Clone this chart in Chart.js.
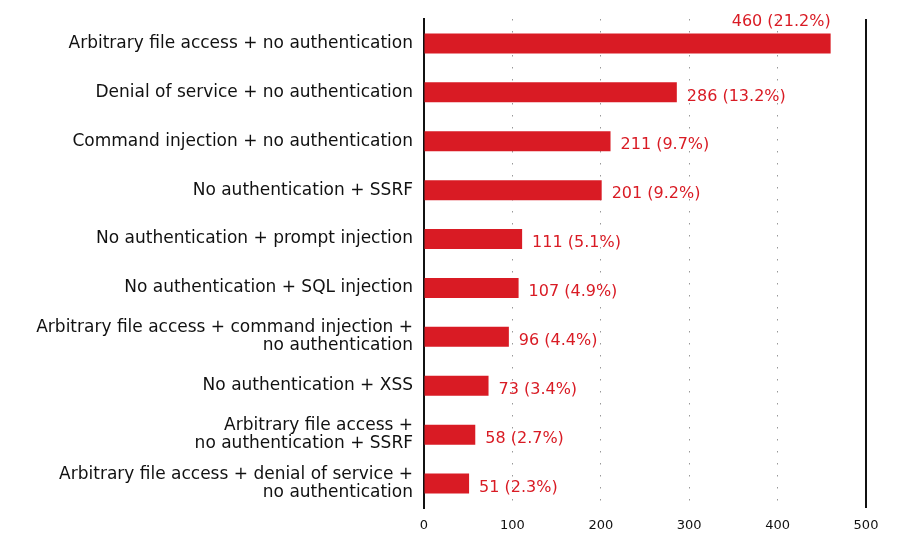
<!DOCTYPE html>
<html>
<head>
<meta charset="utf-8">
<script src="https://cdn.jsdelivr.net/npm/chart.js@4"></script>
<style>
  html, body { margin: 0; padding: 0; background: #fff; }
  #wrap { width: 901px; height: 551px; }
</style>
</head>
<body>
<div id="wrap"><canvas id="combos"></canvas></div>
<script>
// vulnerability combinations, count and share of total
const categories = [
  "Arbitrary file access + no authentication",
  "Denial of service + no authentication",
  "Command injection + no authentication",
  "No authentication + SSRF",
  "No authentication + prompt injection",
  "No authentication + SQL injection",
  ["Arbitrary file access + command injection +", "no authentication"],
  "No authentication + XSS",
  ["Arbitrary file access +", "no authentication + SSRF"],
  ["Arbitrary file access + denial of service +", "no authentication"],
];
const counts = [460, 286, 211, 201, 111, 107, 96, 73, 58, 51];
const shares = [21.2, 13.2, 9.7, 9.2, 5.1, 4.9, 4.4, 3.4, 2.7, 2.3];
const xTicks = [0, 100, 200, 300, 400, 500];

const RED = "#d91b24";
const FONT = "'DejaVu Sans', sans-serif";

// value labels next to the bar end, or above it when there's no room
const valueLabels = {
  id: "valueLabels",
  afterDatasetsDraw(chart) {
    const ctx = chart.ctx;
    const area = chart.chartArea;
    const bars = chart.getDatasetMeta(0).data;
    ctx.save();
    ctx.font = "16px " + FONT;
    ctx.fillStyle = RED;
    ctx.textBaseline = "middle";
    bars.forEach((bar, i) => {
      const txt = `${counts[i]} (${shares[i]}%)`;
      const w = ctx.measureText(txt).width;
      if (bar.x + 10 + w > area.right) {
        ctx.textAlign = "right";
        ctx.fillText(txt, bar.x, bar.y - 22);
      } else {
        ctx.textAlign = "left";
        ctx.fillText(txt, bar.x + 10, bar.y + 4);
      }
    });
    ctx.restore();
  },
};

new Chart(document.getElementById("combos"), {
  type: "bar",
  data: {
    labels: categories,
    datasets: [{
      data: counts,
      backgroundColor: RED,
      barPercentage: 0.82,
      categoryPercentage: 0.5,
    }],
  },
  options: {
    indexAxis: "y",
    responsive: true,
    maintainAspectRatio: false,
    animation: false,
    layout: { padding: { top: 19, right: 35, left: 0, bottom: 0 } },
    plugins: { legend: { display: false }, tooltip: { enabled: false } },
    scales: {
      x: {
        min: 0,
        max: 500,
        afterBuildTicks(scale) {
          scale.ticks = xTicks.map(v => ({ value: v }));
        },
        afterFit(scale) {
          scale.height = 43;
          scale.paddingLeft = 0;
          scale.paddingRight = 0;
        },
        grid: {
          drawTicks: false,
          color: c => c.tick && c.tick.value === 500 ? "#111" : (c.tick && c.tick.value === 0 ? "rgba(0,0,0,0)" : "#999"),
          lineWidth: c => c.tick && c.tick.value === 500 ? 2 : 1,
        },
        border: {
          display: false,
          dash: c => c.tick && c.tick.value === 500 ? [] : [1.5, 10.5],
        },
        ticks: {
          padding: 10,
          color: "#111",
          font: { family: FONT, size: 13 },
        },
      },
      y: {
        afterFit(scale) {
          scale.width = 424;
          scale.paddingTop = 0;
          scale.paddingBottom = 0;
        },
        grid: { display: false, drawTicks: false },
        border: { display: true, color: "#111", width: 2 },
        ticks: {
          padding: 11,
          color: "#111",
          font: { family: FONT, size: 17, lineHeight: 1.06 },
        },
      },
    },
  },
  plugins: [valueLabels],
});
</script>
</body>
</html>
